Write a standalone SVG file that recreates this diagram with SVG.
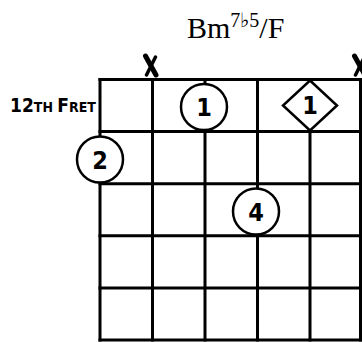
<svg xmlns="http://www.w3.org/2000/svg" width="362" height="342" viewBox="0 0 362 342">
<style>
.grid line{stroke:#000;stroke-width:3;}
.dot{fill:#fff;stroke:#000;stroke-width:2.5;}
.num{font-family:"DejaVu Sans Condensed","DejaVu Sans",sans-serif;font-weight:bold;font-size:25px;text-anchor:middle;fill:#000;}
.mute{stroke:#000;stroke-linecap:round;fill:none;}
.title{font-family:"Liberation Serif","Times New Roman",serif;fill:#000;}
.fret{font-family:"DejaVu Sans Condensed","DejaVu Sans",sans-serif;font-weight:bold;fill:#000;}
</style>
<rect width="362" height="342" fill="#fff"/>
<text class="title" x="187" y="38" font-size="30">Bm<tspan font-size="20" dy="-11">7♭5</tspan><tspan dy="11">/F</tspan></text>
<text class="fret" x="10" y="112"><tspan font-size="19">12</tspan><tspan font-size="14">TH </tspan><tspan font-size="19">F</tspan><tspan font-size="14">RET</tspan></text>
<g id="grid" class="grid">
<line x1="98.5" y1="79.5" x2="362" y2="79.5"/>
<line x1="98.5" y1="131.6" x2="362" y2="131.6"/>
<line x1="98.5" y1="183.7" x2="362" y2="183.7"/>
<line x1="98.5" y1="235.8" x2="362" y2="235.8"/>
<line x1="98.5" y1="287.9" x2="362" y2="287.9"/>
<line x1="98.5" y1="340" x2="362" y2="340"/>
<line x1="100" y1="78" x2="100" y2="341.5"/>
<line x1="152.5" y1="78" x2="152.5" y2="341.5"/>
<line x1="205" y1="78" x2="205" y2="341.5"/>
<line x1="257.5" y1="78" x2="257.5" y2="341.5"/>
<line x1="310" y1="78" x2="310" y2="341.5"/>
<line x1="360.5" y1="78" x2="360.5" y2="341.5"/>
</g>
<g id="mute-2">
<path class="mute" d="M145.5,56 L156,75" stroke-width="5"/>
<path class="mute" d="M155.5,57 L146.5,75" stroke-width="3.5"/>
</g>
<g id="mute-6">
<path class="mute" d="M354.5,56 L365,75" stroke-width="5"/>
<path class="mute" d="M364.5,57 L355.5,75" stroke-width="3.5"/>
</g>
<g id="finger-1">
<circle class="dot" cx="204" cy="107" r="23"/>
<text class="num" x="204" y="116">1</text>
</g>
<g id="finger-1-root">
<polygon class="dot" points="310,80.5 337,105.5 310,130.5 283,105.5"/>
<text class="num" x="310" y="114">1</text>
</g>
<g id="finger-2">
<circle class="dot" cx="100" cy="159.5" r="23"/>
<text class="num" x="100" y="168.5">2</text>
</g>
<g id="finger-4">
<circle class="dot" cx="256" cy="211.5" r="23"/>
<text class="num" x="256" y="220.5">4</text>
</g>
</svg>
